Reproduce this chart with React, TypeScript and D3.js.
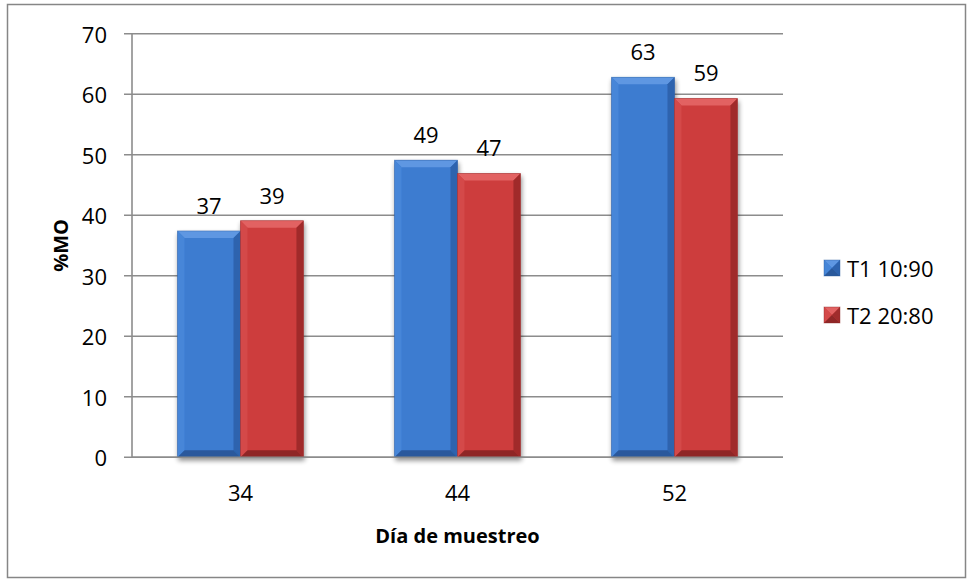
import React from "react";
import * as d3 from "d3";

const width = 969;
const height = 580;
const margin = { top: 33.7, right: 186, bottom: 122.8, left: 132 };

// chart values
const categories = ["34", "44", "52"];
const seriesNames = ["T1 10:90", "T2 20:80"];
const t1Values = [37.4, 49.1, 62.8];
const t2Values = [39.1, 46.9, 59.3];
const yTicks = [0, 10, 20, 30, 40, 50, 60, 70];

const palette = [
  { main: "#3c7bd0", light: "#5e97e2", side: "#4686d8", dark: "#2d63ae", bottom: "#29599c" },
  { main: "#cd3d3d", light: "#e26262", side: "#d44949", dark: "#a02c2c", bottom: "#8f2727" },
];

const font = "'Open Sans', sans-serif";

function BevelBar({ x, y, w, h, c, b }) {
  const x1 = x + w;
  const y1 = y + h;
  const bb = Math.min(b, w / 2, h / 2);
  return (
    <g>
      <rect x={x} y={y} width={w} height={h} fill={c.main} />
      <polygon
        points={`${x},${y} ${x1},${y} ${x1 - bb},${y + bb} ${x + bb},${y + bb}`}
        fill={c.light}
      />
      <polygon
        points={`${x},${y} ${x + bb},${y + bb} ${x + bb},${y1 - bb} ${x},${y1}`}
        fill={c.side}
      />
      <polygon
        points={`${x1},${y} ${x1 - bb},${y + bb} ${x1 - bb},${y1 - bb} ${x1},${y1}`}
        fill={c.dark}
      />
      <polygon
        points={`${x},${y1} ${x + bb},${y1 - bb} ${x1 - bb},${y1 - bb} ${x1},${y1}`}
        fill={c.bottom}
      />
      <rect x={x} y={y} width={w} height={h} fill="none" stroke={c.bottom} strokeOpacity={0.5} strokeWidth={0.8} />
    </g>
  );
}

export default function App() {
  const innerW = width - margin.left - margin.right;
  const innerH = height - margin.top - margin.bottom;

  const x0 = d3.scaleBand().domain(categories).range([0, innerW]).paddingInner(0.42).paddingOuter(0.21);
  const x1 = d3.scaleBand().domain(seriesNames).range([0, x0.bandwidth()]).padding(0);
  const y = d3.scaleLinear().domain([0, 70]).range([innerH, 0]);

  const series = [t1Values, t2Values];

  return (
    <div style={{ position: "absolute", left: 0, top: 0 }}>
      <svg width={width} height={height} style={{ display: "block", fontFamily: font }}>
        <defs>
          <filter id="shadow" x="-20%" y="-10%" width="140%" height="130%">
            <feGaussianBlur in="SourceAlpha" stdDeviation="2.5" />
            <feOffset dx="1" dy="3" result="blur" />
            <feComponentTransfer>
              <feFuncA type="linear" slope="0.45" />
            </feComponentTransfer>
            <feMerge>
              <feMergeNode />
              <feMergeNode in="SourceGraphic" />
            </feMerge>
          </filter>
        </defs>
        <rect x={0} y={0} width={width} height={height} fill="#ffffff" />
        <rect x={7.5} y={4.5} width={958} height={573} fill="#ffffff" stroke="#868686" strokeWidth={1.5} />

        <g transform={`translate(${margin.left},${margin.top})`}>
          {yTicks.map((t) => (
            <g key={t}>
              <line x1={-8} x2={innerW} y1={y(t)} y2={y(t)} stroke="#8c8c8c" strokeWidth={1.6} />
              <text
                x={-25}
                y={y(t)}
                textAnchor="end"
                dominantBaseline="central"
                fontSize={22}
                fill="#000"
              >
                {t}
              </text>
            </g>
          ))}
          <line x1={0} x2={0} y1={0} y2={innerH} stroke="#8c8c8c" strokeWidth={1.6} />

          {categories.map((cat, i) => (
            <g key={cat} transform={`translate(${x0(cat)},0)`} filter="url(#shadow)">
              {seriesNames.map((s, j) => {
                const v = series[j][i];
                return (
                  <BevelBar
                    key={s}
                    x={x1(s)}
                    y={y(v)}
                    w={x1.bandwidth()}
                    h={innerH - y(v)}
                    c={palette[j]}
                    b={7}
                  />
                );
              })}
            </g>
          ))}

          <line x1={0} x2={innerW} y1={innerH} y2={innerH} stroke="#8c8c8c" strokeWidth={1.6} />

          {categories.map((cat, i) =>
            seriesNames.map((s, j) => {
              const v = series[j][i];
              return (
                <text
                  key={cat + s}
                  x={x0(cat) + x1(s) + x1.bandwidth() / 2}
                  y={y(v) - 17}
                  textAnchor="middle"
                  fontSize={22}
                  fill="#000"
                >
                  {d3.format(".0f")(v)}
                </text>
              );
            })
          )}

          {categories.map((cat) => (
            <text
              key={cat}
              x={x0(cat) + x0.bandwidth() / 2}
              y={innerH + 35}
              textAnchor="middle"
              dominantBaseline="central"
              fontSize={22}
              fill="#000"
            >
              {cat}
            </text>
          ))}

          <text
            x={innerW / 2}
            y={innerH + 78}
            textAnchor="middle"
            dominantBaseline="central"
            fontSize={20}
            fontWeight="bold"
            fill="#000"
          >
            Día de muestreo
          </text>
          <text
            transform={`translate(${60 - margin.left},${innerH / 2}) rotate(-90)`}
            textAnchor="middle"
            dominantBaseline="central"
            fontSize={20}
            fontWeight="bold"
            fill="#000"
          >
            %MO
          </text>
        </g>

        {seriesNames.map((s, j) => (
          <g key={s} transform={`translate(824,${260 + j * 47})`}>
            <BevelBar x={0} y={0} w={16} h={16} c={palette[j]} b={8} />
            <text x={23} y={8} dominantBaseline="central" fontSize={22} fill="#000">
              {s}
            </text>
          </g>
        ))}
      </svg>
    </div>
  );
}
